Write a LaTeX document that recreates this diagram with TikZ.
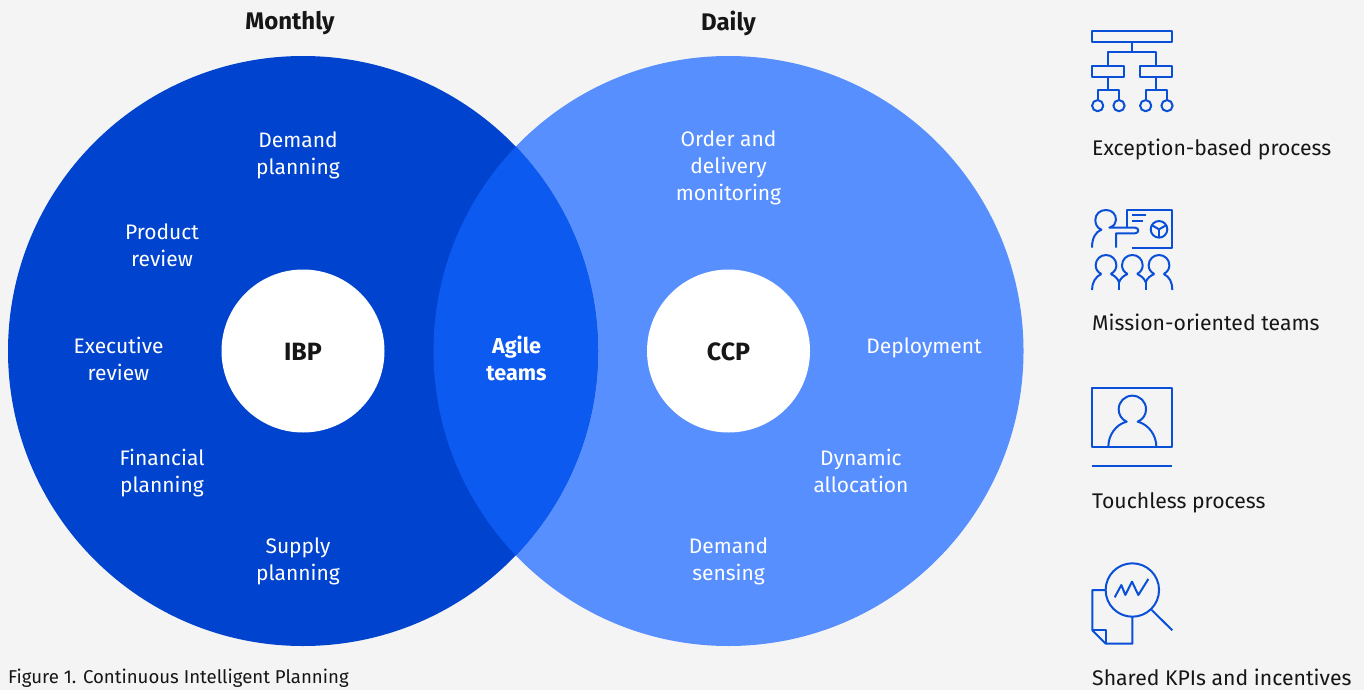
\documentclass[tikz,border=0pt]{standalone}
\usepackage{fontspec}
\setmainfont{Fira Sans}
\definecolor{pagebg}{HTML}{F4F4F4}
\definecolor{darkblue}{HTML}{0043CE}
\definecolor{lightblue}{HTML}{578FFF}
\definecolor{midblue}{HTML}{0C5AF0}
\definecolor{iconblue}{HTML}{0A4FD8}
\definecolor{inkdark}{HTML}{161616}
\tikzset{
  lbl/.style={text=white,align=center,font=\fontsize{21}{27}\selectfont,inner sep=0pt},
  hubtext/.style={text=inkdark,align=center,font=\fontsize{25}{27}\selectfont\bfseries,inner sep=0pt},
  headtext/.style={text=inkdark,font=\fontsize{24}{27}\selectfont\bfseries,inner sep=0pt},
  captext/.style={text=inkdark,anchor=west,font=\fontsize{21.2}{27}\selectfont,inner sep=0pt},
  ico/.style={draw=iconblue,line width=2pt,line join=round,fill=none},
  iconscale/.style={x=0.33333pt,y=-0.33333pt}
}
\begin{document}
\begin{tikzpicture}[x=1pt,y=-1pt]
\path[use as bounding box,fill=pagebg] (0,0) rectangle (1364,690);
\coordinate (cl) at (303,351);
\coordinate (cr) at (728.5,351);
\fill[lightblue] (cr) circle[radius=295];
\fill[darkblue] (cl) circle[radius=295];
\begin{scope}
  \clip (cl) circle[radius=295];
  \fill[midblue] (cr) circle[radius=295];
\end{scope}
\fill[white] (cl) circle[radius=81.5];
\fill[white] (cr) circle[radius=81.5];
\node[headtext] (mon) at (290,23) {Monthly};
\node[headtext] (day) at (728.5,23) {Daily};
\node[hubtext] (ibp) at (303,352) {IBP};
\node[hubtext] (ccp) at (728.5,352) {CCP};
\node[hubtext,text=white,font=\fontsize{21.6}{27}\selectfont\bfseries] (agile) at (516.5,358) {Agile\\teams};
\node[lbl] (a1) at (298,155) {Demand\\planning};
\node[lbl] (a2) at (162,245) {Product\\review};
\node[lbl] (a3) at (118.5,359) {Executive\\review};
\node[lbl] (a4) at (162,473) {Financial\\planning};
\node[lbl] (a5) at (298,561) {Supply\\planning};
\node[lbl] (b1) at (728.5,168) {Order and\\delivery\\monitoring};
\node[lbl] (b2) at (924,348) {Deployment};
\node[lbl] (b3) at (861,471) {Dynamic\\allocation};
\node[lbl] (b4) at (728.5,561) {Demand\\sensing};
\node[captext] (c1) at (1092,149) {Exception-based process};
\node[captext] (c2) at (1092,322) {Mission-oriented teams};
\node[captext] (c3) at (1092,503) {Touchless process};
\node[captext] (c4) at (1092,677.5) {Shared KPIs and incentives};
\node[captext,font=\fontsize{18.6}{22}\selectfont] (fig) at (8,678) {Figure 1. Continuous Intelligent Planning};
% icon 1
\begin{scope}[shift={(1080,20)},iconscale]
  \draw[ico] (36,33) rectangle (277,66);
  \draw[ico] (36,137) rectangle (133,170);
  \draw[ico] (181,137) rectangle (277,170);
  \draw[ico] (157,66) -- (157,97);
  \draw[ico] (85,137) -- (85,97) -- (229,97) -- (229,137);
  \draw[ico] (85,170) -- (85,209);
  \draw[ico] (229,170) -- (229,209);
  \draw[ico] (53,240) -- (53,209) -- (117,209) -- (117,240);
  \draw[ico] (197,240) -- (197,209) -- (261,209) -- (261,240);
  \foreach \cx in {53,117,197,261} \draw[ico] (\cx,257) circle[radius=5.6pt];
\end{scope}
% icon 2
\begin{scope}[shift={(1080,200)},iconscale]
  \draw[ico] (140,83) -- (140,30) -- (277,30) -- (277,143) -- (157,143);
  \draw[ico] (157,45) -- (197,45);
  \draw[ico] (157,62) -- (188,62);
  \draw[ico] (237,88) circle[radius=8.3pt];
  \draw[ico] (237,88) -- (237,112);
  \draw[ico] (237,88) -- (216,76);
  \draw[ico] (237,88) -- (258,76);
  \draw[ico] (36,143) .. controls (36,115) and (46,96) .. (64,89)
     .. controls (50,84) and (46,70) .. (46,60)
     .. controls (46,42) and (60,30) .. (78,30)
     .. controls (96,30) and (108,42) .. (108,60)
     .. controls (108,70) and (102,78) .. (88,83)
     -- (165,83) .. controls (178,83) and (178,100) .. (165,100)
     -- (108,100) -- (108,143);
  \foreach \hx in {78,157,237}{
    \draw[ico] (\hx-14,222) .. controls (\hx-26,216) and (\hx-31,206) .. (\hx-31,196)
      .. controls (\hx-31,178) and (\hx-17,165) .. (\hx,165)
      .. controls (\hx+17,165) and (\hx+31,178) .. (\hx+31,196)
      .. controls (\hx+31,206) and (\hx+26,216) .. (\hx+14,222);
  }
  \draw[ico] (36,270) .. controls (36,248) and (46,230) .. (64,222);
  \draw[ico] (92,222) .. controls (104,227) and (113,235) .. (117,247);
  \draw[ico] (143,222) .. controls (131,227) and (121,235) .. (117,247);
  \draw[ico] (117,247) -- (117,270);
  \draw[ico] (171,222) .. controls (183,227) and (193,235) .. (197,247);
  \draw[ico] (223,222) .. controls (211,227) and (201,235) .. (197,247);
  \draw[ico] (197,247) -- (197,270);
  \draw[ico] (251,222) .. controls (269,230) and (277,248) .. (277,270);
\end{scope}
% icon 3
\begin{scope}[shift={(1080,380)},iconscale]
  \draw[ico] (36,24) rectangle (277,200);
  \draw[ico] (36,257) -- (277,257);
  \draw[ico] (85,200) .. controls (85,165) and (108,133) .. (140,125)
     .. controls (124,118) and (116,103) .. (116,88)
     .. controls (116,65) and (134,47) .. (157,47)
     .. controls (180,47) and (198,65) .. (198,88)
     .. controls (198,103) and (190,118) .. (173,125)
     .. controls (205,133) and (229,165) .. (229,200);
\end{scope}
% icon 4
\begin{scope}[shift={(1080,555)},iconscale]
  \draw[ico] (157,105) circle[radius=26.7pt];
  \draw[ico] (215,165) -- (277,226);
  \draw[ico] (104,127) -- (124,90) -- (136,120) -- (156,80) -- (175,120) -- (205,72);
  \draw[ico] (77,105) -- (37,105) -- (37,226) -- (77,266) -- (157,266) -- (157,185);
  \draw[ico] (37,226) -- (77,226) -- (77,266);
\end{scope}
\end{tikzpicture}
\end{document}
